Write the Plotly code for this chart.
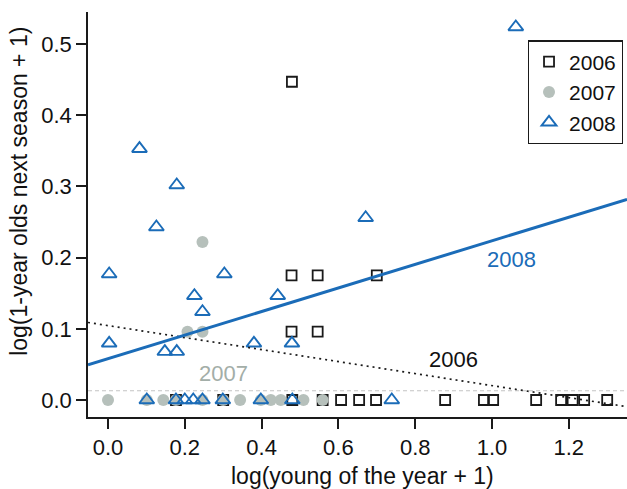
import plotly.graph_objects as go

# ---- data ----
x2006 = [0.177, 0.300, 0.480, 0.559, 0.607, 0.654, 0.698, 0.878, 0.979, 1.003,
         1.115, 1.180, 1.210, 1.240, 1.300, 0.479, 0.478, 0.546, 0.700, 0.478, 0.546]
y2006 = [0.0, 0.0, 0.0, 0.0, 0.0, 0.0, 0.0, 0.0, 0.0, 0.0,
         0.0, 0.0, 0.0, 0.0, 0.0, 0.447, 0.175, 0.175, 0.175, 0.096, 0.096]

x2007 = [0.0, 0.101, 0.144, 0.177, 0.246, 0.300, 0.344, 0.398, 0.424, 0.450,
         0.509, 0.559, 0.207, 0.246, 0.246]
y2007 = [0.0, 0.0, 0.0, 0.0, 0.0, 0.0, 0.0, 0.0, 0.0, 0.0,
         0.0, 0.0, 0.096, 0.096, 0.222]

x2008 = [0.101, 0.177, 0.200, 0.222, 0.246, 0.299, 0.398, 0.480, 0.739,
         1.062, 0.082, 0.179, 0.126, 0.671, 0.003, 0.303, 0.225, 0.442,
         0.246, 0.003, 0.148, 0.179, 0.380, 0.479]
y2008 = [0.0, 0.0, 0.0, 0.0, 0.0, 0.0, 0.0, 0.0, 0.0,
         0.524, 0.353, 0.302, 0.243, 0.256, 0.177, 0.177, 0.1465, 0.1465,
         0.124, 0.0796, 0.068, 0.068, 0.0796, 0.0796]

# fitted regression lines: (intercept, slope)
fit2006 = (0.1045, -0.0843)
fit2007 = (0.013, 0.0)
fit2008 = (0.058, 0.1656)

years = ["2006", "2007", "2008"]
xticks = [0.0, 0.2, 0.4, 0.6, 0.8, 1.0, 1.2]
yticks = [0.0, 0.1, 0.2, 0.3, 0.4, 0.5]

x_range = [-0.0521, 1.3516]
y_range = [-0.0239, 0.545]

FONT = "Liberation Sans, Arial, Helvetica, sans-serif"
BLUE = "#1b6cb8"
GRAY = "#b6c0bb"
DARK = "#1a1a1a"
TXT = "#111111"
FS = 22

fig = go.Figure()

fig.add_trace(go.Scatter(
    x=x2006, y=y2006, mode="markers", name=years[0],
    marker=dict(symbol="square-open", size=10, color=DARK, line=dict(width=1.8, color=DARK))))
fig.add_trace(go.Scatter(
    x=x2007, y=y2007, mode="markers", name=years[1],
    marker=dict(symbol="circle", size=12, color=GRAY, line=dict(width=0))))
fig.add_trace(go.Scatter(
    x=x2008, y=y2008, mode="markers", name=years[2],
    marker=dict(symbol="triangle-up-open", size=13, color=BLUE, line=dict(width=1.9, color=BLUE))))


def line_pts(fit):
    a, b = fit
    return x_range, [a + b * x_range[0], a + b * x_range[1]]


lx, ly = line_pts(fit2007)
fig.add_trace(go.Scatter(x=lx, y=ly, mode="lines", showlegend=False,
                         line=dict(color="#c4c4c4", width=1.2, dash="4px,3px")))
lx, ly = line_pts(fit2006)
fig.add_trace(go.Scatter(x=lx, y=ly, mode="lines", showlegend=False,
                         line=dict(color=DARK, width=1.7, dash="2px,4px")))
lx, ly = line_pts(fit2008)
fig.add_trace(go.Scatter(x=lx, y=ly, mode="lines", showlegend=False,
                         line=dict(color=BLUE, width=3)))

axis_common = dict(
    showline=True, linecolor=DARK, linewidth=1.6,
    ticks="outside", ticklen=10, tickwidth=1.5, tickcolor=DARK,
    tickfont=dict(family=FONT, size=FS, color=TXT),
    showgrid=False, zeroline=False, mirror=False,
)

fig.update_layout(
    width=627, height=489,
    margin=dict(l=88, r=0, t=12, b=72),
    paper_bgcolor="white", plot_bgcolor="white",
    font=dict(family=FONT, size=FS, color=TXT),
    xaxis=dict(range=x_range, tickvals=xticks,
               ticktext=[f"{v:.1f}" for v in xticks], **axis_common),
    yaxis=dict(range=y_range, tickvals=yticks,
               ticktext=[f"{v:.1f}" for v in yticks], **axis_common),
    legend=dict(x=0.816, y=0.93, xanchor="left", yanchor="top",
                bordercolor=DARK, borderwidth=1.2, bgcolor="white",
                font=dict(family=FONT, size=21, color=TXT),
                itemwidth=30, tracegroupgap=0),
    showlegend=True,
    annotations=[
        dict(text="log(young of the year + 1)", xref="paper", yref="paper",
             x=0.51, y=-0.145, xanchor="center", yanchor="middle",
             showarrow=False, font=dict(family=FONT, size=23, color=TXT)),
        dict(text="log(1-year olds next season + 1)", xref="paper", yref="paper",
             x=-0.128, y=0.556, xanchor="center", yanchor="middle", textangle=-90,
             showarrow=False, font=dict(family=FONT, size=23, color=TXT)),
        dict(text="2008", x=1.052, y=0.198, showarrow=False,
             font=dict(family=FONT, size=22, color=BLUE)),
        dict(text="2006", x=0.901, y=0.057, showarrow=False,
             font=dict(family=FONT, size=22, color=TXT)),
        dict(text="2007", x=0.300, y=0.0375, showarrow=False,
             font=dict(family=FONT, size=22, color="#a3aea8")),
    ],
)

fig.write_html("out.html")
